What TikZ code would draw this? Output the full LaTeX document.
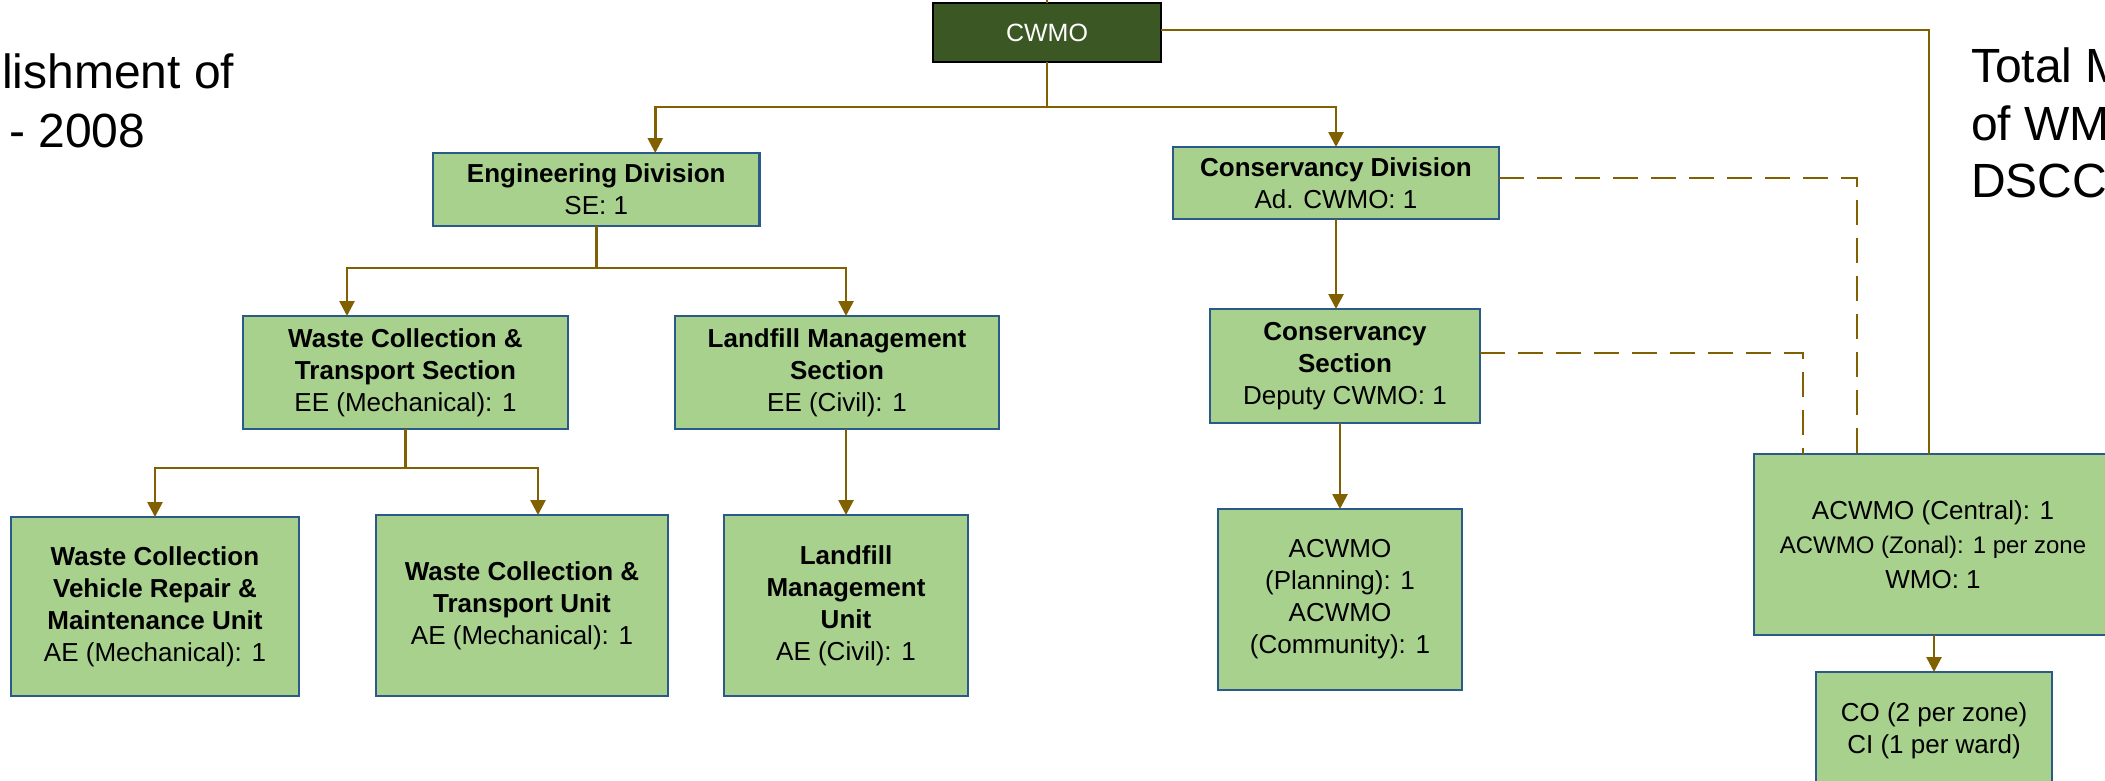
\documentclass[tikz,border=0pt]{standalone}
\usepackage{fontspec}
\setmainfont{Liberation Sans}
\usetikzlibrary{arrows.meta}
\definecolor{boxfill}{HTML}{A9D18E}
\definecolor{boxborder}{HTML}{2C5A88}
\definecolor{linecol}{HTML}{806000}
\definecolor{cwmofill}{HTML}{3A5724}
\tikzset{
  box/.style={draw=boxborder, fill=boxfill, line width=2.7pt, inner sep=0pt, outer sep=0pt,
    align=center, font=\fontsize{26}{32}\selectfont},
  conn/.style={draw=linecol, line width=2.7pt},
  arr/.style={conn, -{Triangle[width=15pt,length=15pt]}},
  dashconn/.style={conn, dash pattern=on 25pt off 13pt},
  bigtext/.style={anchor=base west, inner sep=0pt, font=\fontsize{48}{57}\selectfont}
}
\begin{document}
\begin{tikzpicture}[x=1pt,y=-1pt]
\useasboundingbox (0,0) rectangle (2105,780);
\fill[white] (0,0) rectangle (2105,780);
\clip (0,0) rectangle (2105,780);

% side texts
\node[bigtext] (l1) at (2,88) {lishment of};
\node[bigtext] (l2) at (9,147) {- 2008};
\node[bigtext] (r1) at (1971,82) {Total M};
\node[bigtext] (r2) at (1971,140) {of WM};
\node[bigtext] (r3) at (1971,197) {DSCC};

% boxes
\node[draw=black, fill=cwmofill, line width=2pt, inner sep=0pt, outer sep=0pt,
  minimum width=228pt, minimum height=59pt, text=white, font=\fontsize{25}{30}\selectfont]
  (cwmo) at (1047,32.5) {CWMO};
\node[box, minimum width=326.5pt, minimum height=73pt] (eng) at (596.25,189.5)
  {\textbf{Engineering Division}\\SE: 1};
\node[box, minimum width=326pt, minimum height=72pt] (cdiv) at (1336,183)
  {\textbf{Conservancy Division}\\Ad. CWMO: 1};
\node[box, minimum width=325pt, minimum height=113pt] (wcts) at (405.5,372.5)
  {\textbf{Waste Collection \&}\\\textbf{Transport Section}\\EE (Mechanical): 1};
\node[box, minimum width=324pt, minimum height=113pt] (lfs) at (837,372.5)
  {\textbf{Landfill Management}\\\textbf{Section}\\EE (Civil): 1};
\node[box, minimum width=270pt, minimum height=114pt] (csec) at (1345,366)
  {\textbf{Conservancy}\\\textbf{Section}\\Deputy CWMO: 1};
\node[box, minimum width=288pt, minimum height=179pt] (wcvr) at (155,606.5)
  {\textbf{Waste Collection}\\\textbf{Vehicle Repair \&}\\\textbf{Maintenance Unit}\\AE (Mechanical): 1};
\node[box, minimum width=292pt, minimum height=181pt] (wctu) at (522,605.5)
  {\textbf{Waste Collection \&}\\\textbf{Transport Unit}\\AE (Mechanical): 1};
\node[box, minimum width=244pt, minimum height=181pt] (lfu) at (846,605.5)
  {\textbf{Landfill}\\\textbf{Management}\\\textbf{Unit}\\AE (Civil): 1};
\node[box, minimum width=244pt, minimum height=181pt] (acp) at (1340,599.5)
  {ACWMO\\(Planning): 1\\ACWMO\\(Community): 1};
\node[box, minimum width=358pt, minimum height=181pt, font=\fontsize{26}{34.5}\selectfont] (acw) at (1933,544.5)
  {ACWMO (Central): 1\\{\fontsize{24}{34.5}\selectfont ACWMO (Zonal): 1 per zone}\\WMO: 1};
\node[box, minimum width=236pt, minimum height=118pt] (co) at (1934,731)
  {CO (2 per zone)\\CI (1 per ward)};

% connectors
\coordinate (top) at (1047,-5);
\draw[conn] (cwmo.north) -- (top);
\coordinate (b1) at (1047,107);
\draw[conn] (cwmo.south) -- (b1);
\draw[arr] (b1) -| ([xshift=59pt]eng.north);
\draw[arr] (b1) -| (cdiv.north);

\coordinate (b2) at (596.25,268);
\draw[conn] (eng.south) -- (b2);
\draw[arr] (b2) -| ([xshift=-58.5pt]wcts.north);
\draw[arr] (b2) -| ([xshift=9pt]lfs.north);

\coordinate (b3) at (405.5,468);
\draw[conn] (wcts.south) -- (b3);
\draw[arr] (b3) -| (wcvr.north);
\draw[arr] (b3) -| ([xshift=16pt]wctu.north);

\draw[arr] ([xshift=9pt]lfs.south) -- (lfu.north);
\draw[arr] (cdiv.south) -- ([xshift=-9pt]csec.north);
\draw[arr] ([xshift=-5pt]csec.south) -- (acp.north);

\draw[conn] ([yshift=2.5pt]cwmo.east) -| ([xshift=-4pt]acw.north);
\draw[dashconn] ([yshift=5pt]cdiv.east) -| ([xshift=-76pt]acw.north);
\draw[dashconn] ([yshift=13pt]csec.east) -| ([xshift=-130pt]acw.north);
\draw[arr] ([xshift=1pt]acw.south) -- (co.north);
\end{tikzpicture}
\end{document}
